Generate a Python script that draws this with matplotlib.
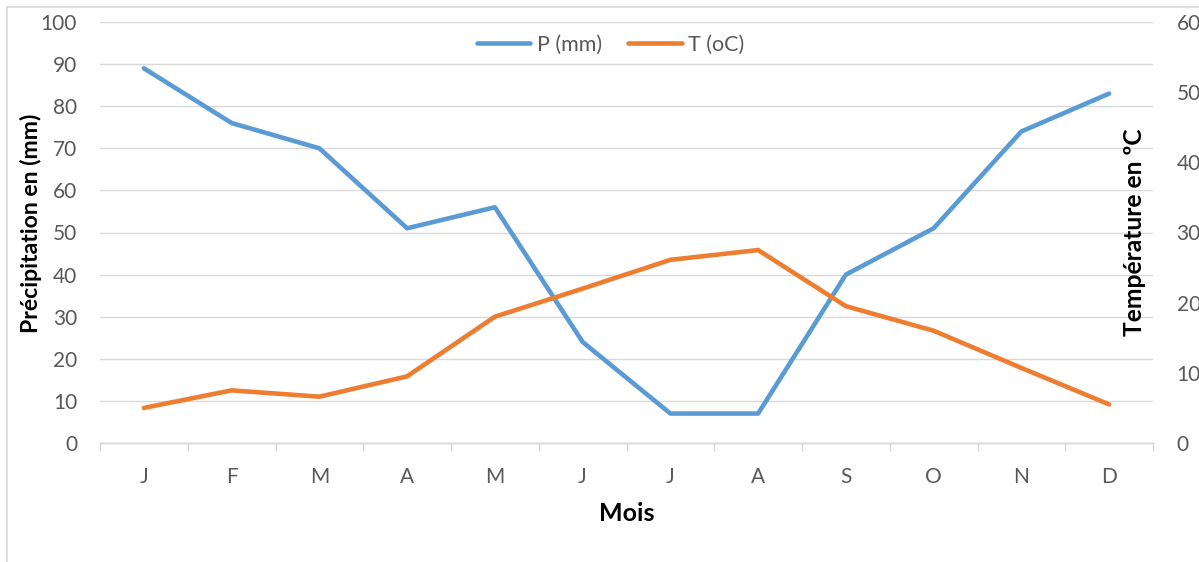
import matplotlib
matplotlib.use("Agg")
import matplotlib.pyplot as plt
import numpy as np
from matplotlib.lines import Line2D

months = ["J", "F", "M", "A", "M", "J", "J", "A", "S", "O", "N", "D"]
precip = [89, 76, 70, 51, 56, 24, 7, 7, 40, 51, 74, 83]
temp = [5.0, 7.5, 6.6, 9.5, 18.0, 22.0, 26.1, 27.5, 19.5, 16.0, 10.7, 5.5]
left_ticks = [0, 10, 20, 30, 40, 50, 60, 70, 80, 90, 100]
right_ticks = [0, 10, 20, 30, 40, 50, 60]

plt.rcParams['font.family'] = ['Lato', 'DejaVu Sans']

W, H = 1199, 562
fig = plt.figure(figsize=(W / 100, H / 100), dpi=100)
x0, x1, y0, y1 = 100, 1153, 22, 443
ax = fig.add_axes([x0 / W, 1 - y1 / H, (x1 - x0) / W, (y1 - y0) / H])
ax2 = ax.twinx()

blue = "#5B9BD5"
orange = "#ED7D31"
grid = "#D9D9D9"
tick_col = "#595959"
lw = 3.3

x = np.arange(len(months))
ax.plot(x, precip, color=blue, lw=lw, solid_capstyle='round', solid_joinstyle='round', zorder=3)
ax2.plot(x, temp, color=orange, lw=lw, solid_capstyle='round', solid_joinstyle='round', zorder=3)

ax.set_xlim(-0.5, 11.5)
ax.set_ylim(0, 100)
ax2.set_ylim(0, 60)
ax.set_yticks(left_ticks)
ax2.set_yticks(right_ticks)
ax.set_xticks(x)
ax.set_xticklabels(months)
ax.set_xticks(np.arange(-0.5, 12, 1), minor=True)

ax.grid(axis='y', color=grid, lw=1.0)
ax.set_axisbelow(True)
for a in (ax, ax2):
    for s in ('top', 'right', 'left'):
        a.spines[s].set_visible(False)
    a.spines['bottom'].set_color(grid)
    a.spines['bottom'].set_linewidth(1.0)

ax.tick_params(axis='y', length=0, pad=16.5, labelsize=15, labelcolor=tick_col)
ax2.tick_params(axis='y', length=0, pad=17, labelsize=15, labelcolor=tick_col)
ax.tick_params(axis='x', which='major', length=0, pad=17, labelsize=15, labelcolor=tick_col)
ax.tick_params(axis='x', which='minor', length=5.8, color=grid, width=1.0)

lab_kw = dict(fontweight='bold', color='black')
ax.set_ylabel("Précipitation en (mm)", fontsize=16.6, **lab_kw)
ax.yaxis.label.set_va('center')
ax.yaxis.set_label_coords(-0.0655, 0.521)
ax2.set_ylabel("Température en ºC", fontsize=17.7, **lab_kw)
ax2.yaxis.label.set_va('center')
ax2.yaxis.set_label_coords(0.982, 0.5)
ax.set_xlabel("Mois", fontsize=18, **lab_kw)
ax.xaxis.label.set_va('center')
ax.xaxis.set_label_coords(0.5, -0.1675)

handles = [Line2D([], [], color=blue, lw=lw, solid_capstyle='round'),
           Line2D([], [], color=orange, lw=lw, solid_capstyle='round')]
leg = fig.legend(handles, ["P (mm)", "T (oC)"], loc='center',
                 bbox_to_anchor=(610.5 / W, 1 - 45 / H),
                 ncol=2, frameon=False, fontsize=15.5, handlelength=2.5,
                 handletextpad=0.3, columnspacing=1.2, labelcolor=tick_col,
                 borderpad=0, borderaxespad=0)

# chart border
fig.add_artist(Line2D([7 / W, 7 / W], [0, 1 - 7 / H], color=grid, lw=1.2, transform=fig.transFigure))
fig.add_artist(Line2D([7 / W, 1], [1 - 7 / H, 1 - 7 / H], color=grid, lw=1.2, transform=fig.transFigure))

fig.savefig("out.png", dpi=100)
